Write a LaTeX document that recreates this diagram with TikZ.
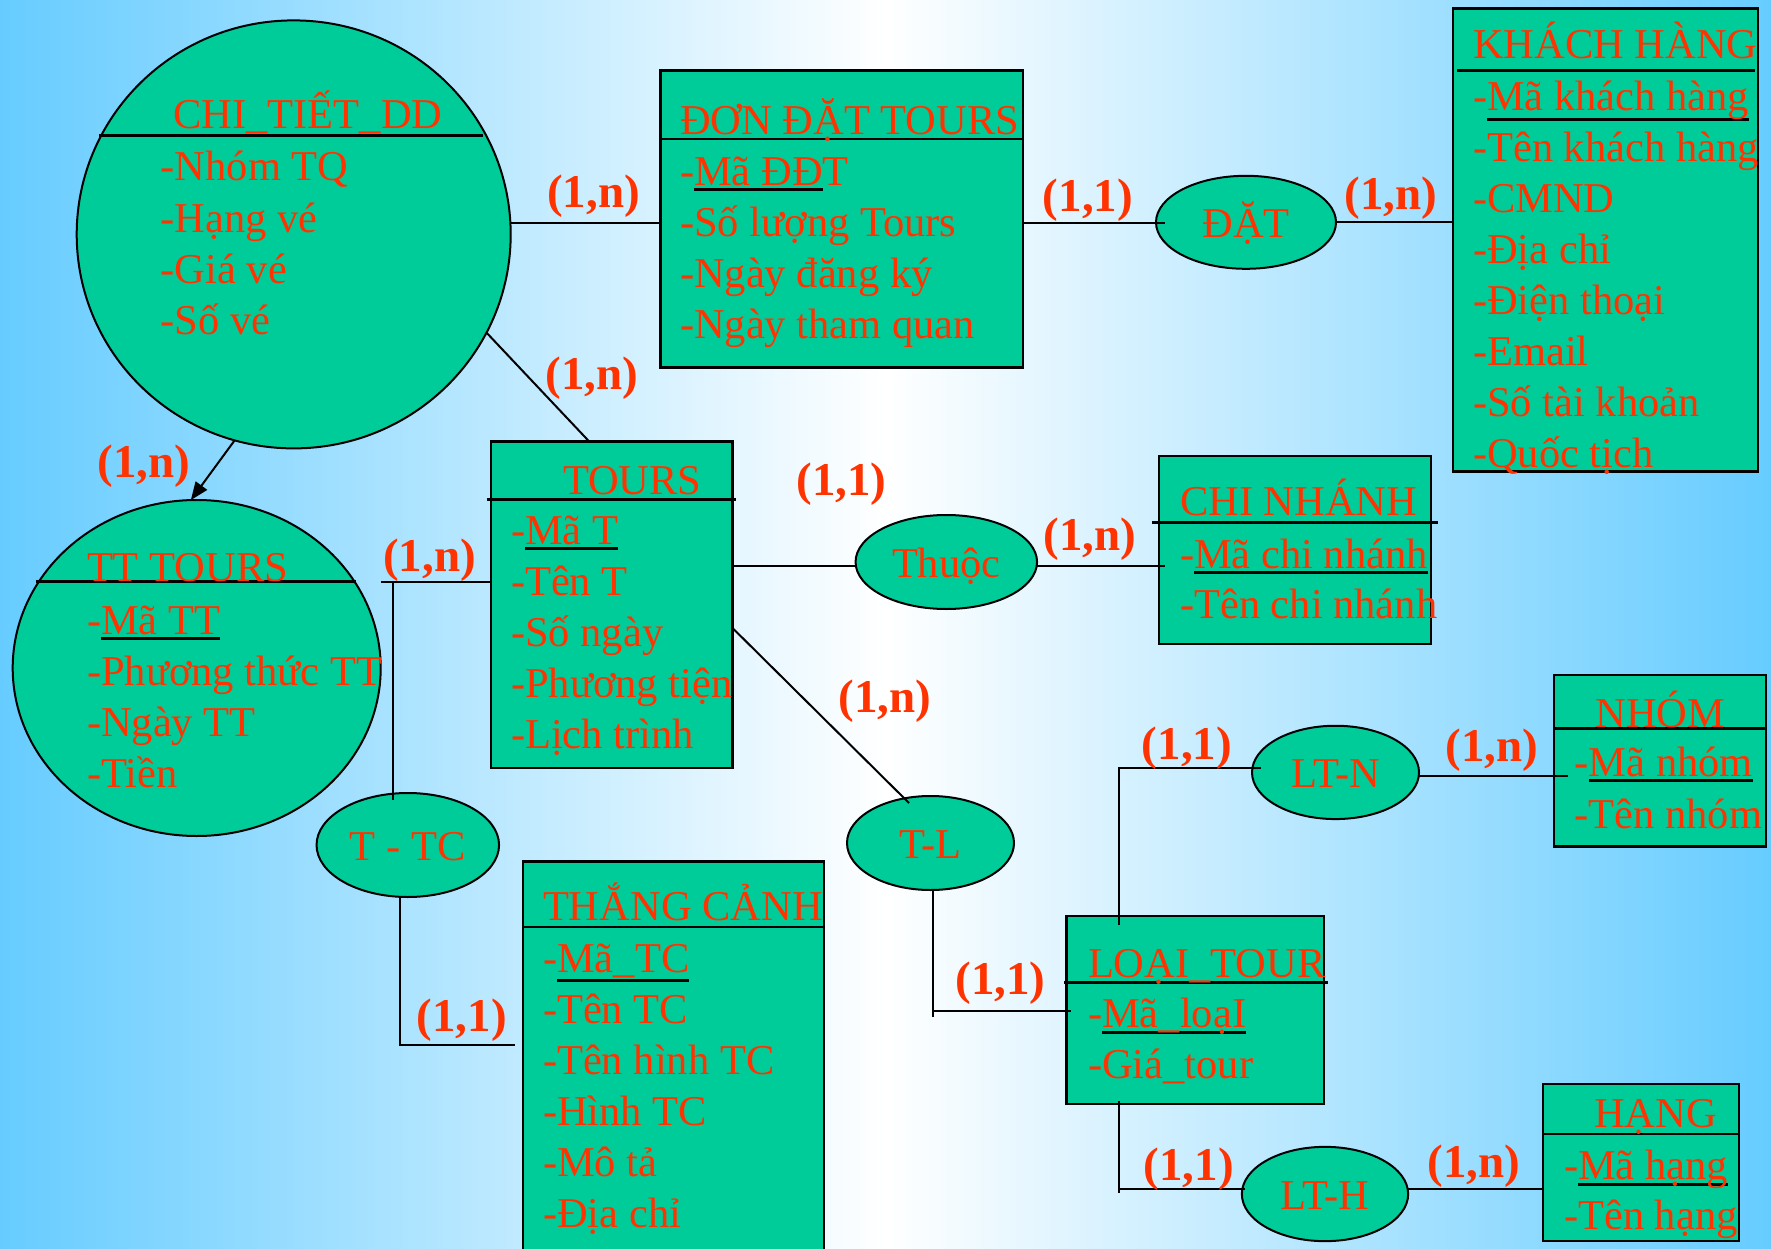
\documentclass[tikz,border=0pt]{standalone}
\usepackage{fontspec}
\setmainfont{Liberation Serif}
\usetikzlibrary{shapes.geometric,arrows.meta,calc}
\definecolor{bgblue}{RGB}{102,204,255}
\definecolor{ent}{RGB}{0,204,153}
\definecolor{txt}{RGB}{255,51,0}
\newsavebox\keyulbox
\newcommand\keyul[2][-6pt]{\sbox\keyulbox{#2}\rlap{\color{black}\rule[#1]{\wd\keyulbox}{3pt}}\usebox\keyulbox}
\newcommand\attrlist[5]{%
  \foreach \attritem [count=\i] in {#5}{%
    \node[attr] (#1\i) at (#2,{#3+#4*(\i-1)}) {\attritem};
  }%
}
\tikzset{
  entbox/.style={draw=black, line width=2.5pt, fill=ent, rectangle, inner sep=0pt, outer sep=0pt, anchor=north west},
  entcirc/.style={draw=black, line width=2pt, fill=ent, ellipse, inner sep=0pt, outer sep=0pt},
  rel/.style={draw=black, line width=2pt, fill=ent, ellipse, inner sep=0pt, outer sep=0pt, text=txt,
    font=\fontsize{42.5}{51}\selectfont, text height=31pt, text depth=0pt},
  ttl/.style={text=txt, font=\fontsize{42.5}{51}\selectfont, inner sep=0pt, outer sep=0pt, anchor=base west, yshift=-2.5pt},
  attr/.style={text=txt, font=\fontsize{42.5}{51}\selectfont, inner sep=0pt, outer sep=0pt, anchor=base west, yshift=-2.5pt},
  card/.style={text=txt, font=\bfseries\fontsize{47}{56}\selectfont, inner sep=0pt, outer sep=0pt, anchor=base, yshift=-2.5pt},
  conn/.style={draw=black, line width=2pt},
  sep/.style={draw=black, line width=2.5pt},
}
\begin{document}
\begin{tikzpicture}[x=1pt,y=-1pt]
\useasboundingbox (0,0) rectangle (1771,1249);
\shade[left color=bgblue, right color=bgblue, middle color=white] (0,0) rectangle (1771,1249);

% ---------- entity shapes ----------
\node[entcirc, minimum width=434pt, minimum height=428pt] (chitiet) at (293.7,234.4) {};
\node[entcirc, minimum width=368pt, minimum height=336pt] (tttours) at (196.7,668) {};
\node[entbox, minimum width=362.5pt, minimum height=297pt] (dondat) at (660.5,70.7) {};
\node[entbox, minimum width=305pt, minimum height=463.4pt] (khach) at (1453,8.3) {};
\node[entbox, minimum width=272pt, minimum height=188pt] (chinhanh) at (1159,456) {};
\node[entbox, minimum width=241.5pt, minimum height=326.7pt] (tours) at (491,441.3) {};
\node[entbox, minimum width=301pt, minimum height=400pt] (thang) at (523,861.7) {};
\node[entbox, minimum width=257.3pt, minimum height=188pt] (loai) at (1066.7,916) {};
\node[entbox, minimum width=212pt, minimum height=171.7pt] (nhom) at (1554,675) {};
\node[entbox, minimum width=196pt, minimum height=157pt] (hang) at (1543,1084) {};

% ---------- relationship ellipses ----------
\node[rel, minimum width=180pt, minimum height=93pt] (dat) at (1246,222.3) {ĐẶT};
\node[rel, minimum width=181.5pt, minimum height=94pt] (thuoc) at (946.3,562) {Thuộc};
\node[rel, minimum width=182.5pt, minimum height=104pt] (ttc) at (407.8,845) {T - TC};
\node[rel, minimum width=167pt, minimum height=94pt] (tl) at (930.5,843) {T-L};
\node[rel, minimum width=167pt, minimum height=93.3pt] (ltn) at (1335.5,772.4) {LT-N};
\node[rel, minimum width=166.3pt, minimum height=94.3pt] (lth) at (1325,1194) {LT-H};

% ---------- header separators ----------
\draw[sep] (99,135.5) -- (483,135.5);
\draw[sep] (dondat.west |- 0,139) -- (dondat.east |- 0,139);
\draw[sep] (1457,70.7) -- (1755,70.7);
\draw[sep] (1152,522.7) -- (1438,522.7);
\draw[sep] (487,499.3) -- (736,499.3);
\draw[sep] (36,581.7) -- (356,581.7);
\draw[sep] (thang.west |- 0,927) -- (thang.east |- 0,927);
\draw[sep] (1064,982.7) -- (1328,982.7);
\draw[sep] (nhom.west |- 0,728.7) -- (nhom.east |- 0,728.7);
\draw[sep] (hang.west |- 0,1134) -- (hang.east |- 0,1134);

% ---------- titles ----------
\node[ttl] (tchitiet) at (173.4,126) {CHI\_TIẾT\_DD};
\node[ttl] (tdondat) at (680,131.7) {ĐƠN ĐẶT TOURS};
\node[ttl] (tkhach) at (1473,56) {KHÁCH HÀNG};
\node[ttl] (tchinhanh) at (1180,513) {CHI NHÁNH};
\node[ttl] (ttours) at (563,491.7) {TOURS};
\node[ttl] (ttttours) at (87,579) {TT TOURS};
\node[ttl] (tthang) at (543,918) {THẮNG CẢNH};
\node[ttl] (tloai) at (1088,975) {LOẠI\_TOUR};
\node[ttl] (tnhom) at (1595.5,725) {NHÓM};
\node[ttl] (thang2) at (1594,1125) {HẠNG};

% ---------- attributes ----------
\attrlist{ct}{160.7}{178.3}{51.3}{{-Nhóm TQ},{-Hạng vé},{-Giá vé},{-Số vé}}
\attrlist{dd}{680}{183}{51}{{-\keyul{Mã ĐĐ}T},{-Số lượng Tours},{-Ngày đăng ký},{-Ngày tham quan}}
\attrlist{kh}{1473}{108}{51}{{-\keyul[-10.5pt]{Mã khách hàng}},{-Tên khách hàng},{-CMND},{-Địa chỉ},{-Điện thoại},{-Email},{-Số tài khoản},{-Quốc tịch}}
\attrlist{cn}{1180}{566}{50}{{-\keyul[-5pt]{Mã chi nhánh}},{-Tên chi nhánh}}
\attrlist{to}{511}{541.7}{51.1}{{-\keyul{Mã T}},{-Tên T},{-Số ngày},{-Phương tiện},{-Lịch trình}}
\attrlist{tt}{87}{631.7}{51.1}{{-\keyul{Mã TT}},{-Phương thức TT},{-Ngày TT},{-Tiền}}
\attrlist{tc}{543}{970}{51}{{-\keyul[-9.5pt]{Mã\_TC}},{-Tên TC},{-Tên hình TC},{-Hình TC},{-Mô tả},{-Địa chỉ}}
\attrlist{lo}{1088}{1025}{51}{{-\keyul{Mã\_loạI}},{-Giá\_tour}}
\attrlist{nh}{1574.6}{774}{52}{{-\keyul[-5pt]{Mã nhóm}},{-Tên nhóm}}
\attrlist{ha}{1564}{1176.7}{50.3}{{-\keyul[-6.5pt]{Mã hạng}},{-Tên hạng}}

% ---------- connectors ----------
\draw[conn] (chitiet.east |- 0,223) -- (dondat.west |- 0,223);
\draw[conn] (dondat.east |- 0,223) -- ($(dat.west |- 0,223)+(9,0)$);
\draw[conn] (dat.east |- 0,222.3) -- (khach.west |- 0,222.3);
\draw[conn] (chitiet.-27) -- (tours.north -| 589,0);
\draw[conn, -{Triangle[length=18pt,width=14pt]}] (chitiet.254) -- (tttours.92);
\draw[conn] (tours.west |- 0,582) -- (381,582);
\draw[conn] (393,582) -- ($(ttc.north -| 393,0)+(0,7)$);
\draw[conn] (ttc.south -| 400,0) |- ($(thang.west |- 0,1045)+(-8,0)$);
\draw[conn] (tours.east |- 0,566) -- (thuoc.west |- 0,566);
\draw[conn] (thuoc.east |- 0,566) -- ($(chinhanh.west |- 0,566)+(6,0)$);
\draw[conn] (tours.east |- 0,628) -- ($(tl.north -| 909,0)+(0,7)$);
\draw[conn] (tl.south -| 933,0) -- (933,1017);
\draw[conn] (933,1010.7) -- ($(loai.west |- 0,1010.7)+(4,0)$);
\draw[conn] ($(loai.north -| 1119.4,0)+(0,9)$) |- ($(ltn.west |- 0,768)+(9,0)$);
\draw[conn] ($(loai.south -| 1119.4,0)+(0,-3)$) -- (1119.4,1193);
\draw[conn] (1119.4,1189) -- ($(lth.west |- 0,1189)+(3,0)$);
\draw[conn] (ltn.east |- 0,775.7) -- ($(nhom.west |- 0,775.7)+(14,0)$);
\draw[conn] (lth.east |- 0,1189) -- (hang.west |- 0,1189);

% ---------- cardinalities ----------
\node[card] (c1) at (593.5,205) {(1,n)};
\node[card] (c2) at (1088,209.5) {(1,1)};
\node[card] (c3) at (1391,207.5) {(1,n)};
\node[card] (c4) at (592,387) {(1,n)};
\node[card] (c5) at (143.7,475) {(1,n)};
\node[card] (c6) at (429.6,569) {(1,n)};
\node[card] (c7) at (841.5,492.5) {(1,1)};
\node[card] (c8) at (1090,547.5) {(1,n)};
\node[card] (c9) at (885,710) {(1,n)};
\node[card] (c10) at (461.7,1029) {(1,1)};
\node[card] (c11) at (1000.5,992) {(1,1)};
\node[card] (c12) at (1187,757) {(1,1)};
\node[card] (c13) at (1492,758.5) {(1,n)};
\node[card] (c14) at (1188.7,1177.5) {(1,1)};
\node[card] (c15) at (1474,1175) {(1,n)};
\end{tikzpicture}
\end{document}
